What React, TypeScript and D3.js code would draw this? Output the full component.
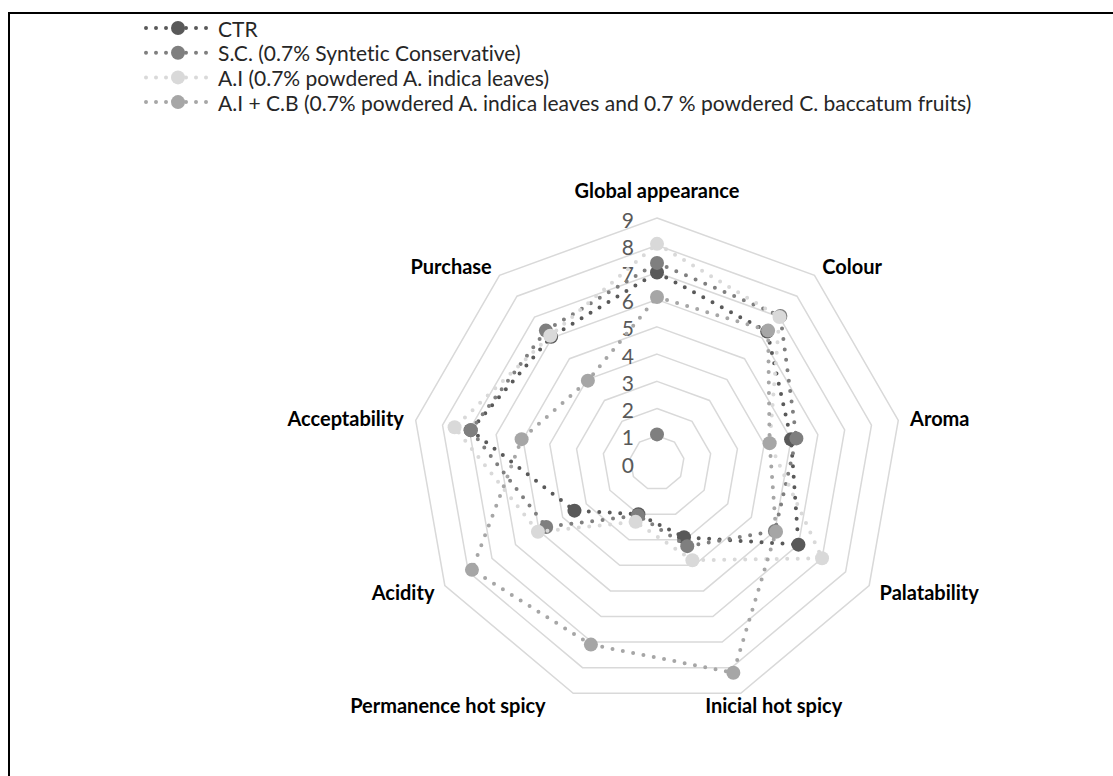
import React, { useEffect, useRef } from "react";
import * as d3 from "d3";

const categories = [
  "Global appearance",
  "Colour",
  "Aroma",
  "Palatability",
  "Inicial hot spicy",
  "Permanence hot spicy",
  "Acidity",
  "Acceptability",
  "Purchase",
];
const seriesNames = [
  "CTR",
  "S.C. (0.7% Syntetic Conservative)",
  "A.I (0.7% powdered A. indica leaves)",
  "A.I + C.B (0.7% powdered A. indica leaves and 0.7 % powdered C. baccatum fruits)",
];
const ctrValues = [7.0, 6.3, 5.0, 6.0, 2.9, 2.0, 3.5, 6.95, 6.05];
const scValues = [7.35, 7.05, 5.2, 5.0, 3.25, 2.05, 4.7, 6.95, 6.35];
const aiValues = [8.05, 7.0, 4.2, 7.0, 3.8, 2.3, 5.05, 7.55, 6.1];
const aicbValues = [6.1, 6.35, 4.2, 5.05, 8.2, 7.1, 7.85, 5.05, 3.95];
const loneValues = [1.05];
const tickValues = [0, 1, 2, 3, 4, 5, 6, 7, 8, 9];
const seriesColors = ["#595959", "#7f7f7f", "#d9d9d9", "#a6a6a6"];
const loneColor = "#7f7f7f";

export default function App() {
  const ref = useRef<SVGSVGElement>(null);
  useEffect(() => {
    const svg = d3.select(ref.current);
    svg.selectAll("*").remove();
    const font = "Lato, 'Open Sans', sans-serif";
    const cx = 657, cy = 463, R = 245;
    const r = d3.scaleLinear().domain([0, 9]).range([0, R]);
    const n = categories.length;
    const angle = d3.scaleLinear().domain([0, n]).range([0, 2 * Math.PI]);

    svg.append("rect").attr("width", 1113).attr("height", 776).attr("fill", "#fff");
    svg.append("rect").attr("x", 9).attr("y", 13).attr("width", 1400).attr("height", 1100)
      .attr("fill", "none").attr("stroke", "#000").attr("stroke-width", 2);

    const g = svg.append("g").attr("transform", `translate(${cx},${cy})`);
    const ring = d3.lineRadial<number>()
      .angle((_, i) => angle(i))
      .radius((d) => r(d))
      .curve(d3.curveLinearClosed);

    // grid rings
    tickValues.filter((t) => t > 0).forEach((t) => {
      g.append("path").attr("d", ring(categories.map(() => t)) as string)
        .attr("fill", "none").attr("stroke", "#d9d9d9").attr("stroke-width", 1.5);
    });

    // tick labels
    tickValues.forEach((t) => {
      g.append("text").attr("x", -23).attr("y", -r(t) + 1)
        .attr("text-anchor", "end").attr("dominant-baseline", "central")
        .attr("font-family", font).attr("font-size", 21).attr("fill", "#595959")
        .text(String(t));
    });

    const all = [ctrValues, scValues, aiValues, aicbValues];
    all.forEach((vals, si) => {
      g.append("path").attr("d", ring(vals) as string)
        .attr("fill", "none").attr("stroke", seriesColors[si])
        .attr("stroke-width", 4).attr("stroke-linecap", "round")
        .attr("stroke-dasharray", "0 10.5");
      g.selectAll(null).data(vals).enter().append("circle")
        .attr("cx", (d, i) => r(d) * Math.sin(angle(i)))
        .attr("cy", (d, i) => -r(d) * Math.cos(angle(i)))
        .attr("r", 7).attr("fill", seriesColors[si]);
    });
    g.selectAll(null).data(loneValues).enter().append("circle")
      .attr("cx", (d, i) => r(d) * Math.sin(angle(i)))
      .attr("cy", (d, i) => -r(d) * Math.cos(angle(i)))
      .attr("r", 7).attr("fill", loneColor);

    // category labels
    const shift = (i: number) => {
      const dx = Math.sin(angle(i));
      if (Math.abs(dx) < 0.1) return 0;
      if (Math.abs(dx) > 0.5) return Math.sign(dx);
      return dx > 0 ? 0.42 : -1.24;
    };
    categories.forEach((c, i) => {
      const a = angle(i);
      const rr = R + 12;
      const px = rr * Math.sin(a), py = -rr * Math.cos(a);
      const t = g.append("text").attr("font-family", font).attr("font-weight", "bold")
        .attr("font-size", 20).attr("fill", "#000")
        .style("font-variant-ligatures", "none")
        .attr("text-anchor", "middle").attr("dominant-baseline", "central").text(c);
      const w = (t.node() as SVGTextElement).getComputedTextLength();
      const top = Math.abs(Math.sin(a)) < 0.1 && Math.cos(a) > 0;
      t.attr("x", px + (w / 2) * shift(i)).attr("y", top ? py - 16 : py);
    });

    // legend
    const leg = svg.append("g");
    seriesNames.forEach((name, si) => {
      const y = 28 + si * 24.7;
      leg.append("line").attr("x1", 146).attr("x2", 212).attr("y1", y).attr("y2", y)
        .attr("stroke", seriesColors[si]).attr("stroke-width", 4)
        .attr("stroke-linecap", "round").attr("stroke-dasharray", "0 10");
      leg.append("circle").attr("cx", 178).attr("cy", y).attr("r", 7).attr("fill", seriesColors[si]);
      leg.append("text").attr("x", 218).attr("y", y).attr("dominant-baseline", "central")
        .style("font-variant-ligatures", "none")
        .attr("font-family", font).attr("font-size", 21).attr("fill", "#262626").text(name);
    });
  }, []);
  return (
    <svg ref={ref} width={1113} height={776}
      style={{ position: "absolute", left: 0, top: 0, display: "block" }} />
  );
}
